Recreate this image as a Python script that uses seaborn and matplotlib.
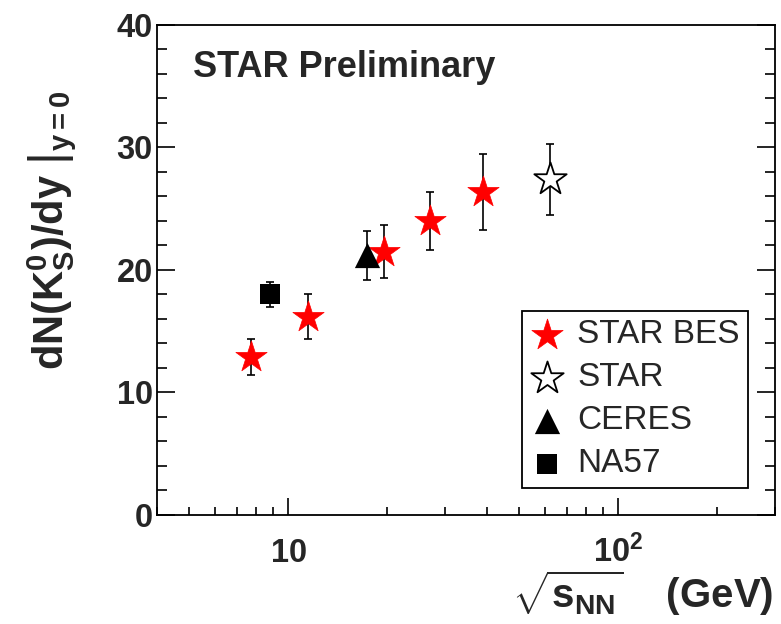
import matplotlib
matplotlib.use("Agg")
import matplotlib.pyplot as plt
import seaborn as sns
import pandas as pd
from matplotlib.ticker import FixedLocator, FixedFormatter, LogLocator, NullFormatter, MultipleLocator

# K0s mid-rapidity yields vs collision energy
bes_energy = [7.7, 11.5, 19.6, 27.0, 39.0]
bes_yield = [12.9, 16.2, 21.5, 24.0, 26.4]
bes_err = [1.45, 1.8, 2.15, 2.4, 3.1]

star_energy = [62.4]
star_yield = [27.4]
star_err = [2.9]

ceres_energy = [17.3]
ceres_yield = [21.2]
ceres_err = [2.0]

na57_energy = [8.8]
na57_yield = [18.0]
na57_err = [1.05]

x_ticks = [10, 100]
x_tick_labels = [r"$\mathbf{10}$", r"$\mathbf{10^{2}}$"]
y_ticks = [0, 10, 20, 30, 40]
y_tick_labels = ["0", "10", "20", "30", "40"]

sns.set_theme(style="ticks")
plt.rcParams["font.family"] = ["Liberation Sans", "DejaVu Sans"]
plt.rcParams["mathtext.fontset"] = "custom"
plt.rcParams["mathtext.rm"] = "Liberation Sans"
plt.rcParams["mathtext.bf"] = "Liberation Sans:bold"
plt.rcParams["mathtext.it"] = "Liberation Sans:italic"
plt.rcParams["mathtext.sf"] = "Liberation Sans"

fig = plt.figure(figsize=(7.81, 6.24), dpi=100)
ax = fig.add_axes([0.2010, 0.1747, 0.7913, 0.7853])
ax.set_xscale("log")

series = [
    ("STAR BES", bes_energy, bes_yield, bes_err,
     dict(marker="*", s=560, color="#ff0000", edgecolor="#ff0000", linewidth=0.5)),
    ("STAR", star_energy, star_yield, star_err,
     dict(marker="*", s=600, color="white", edgecolor="black", linewidth=1.3)),
    ("CERES", ceres_energy, ceres_yield, ceres_err,
     dict(marker="^", s=330, color="black", edgecolor="black", linewidth=0)),
    ("NA57", na57_energy, na57_yield, na57_err,
     dict(marker="s", s=200, color="black", edgecolor="black", linewidth=0)),
]

for name, xs, ys, es, style in series:
    df = pd.DataFrame({"energy": xs, "yield": ys})
    ax.errorbar(xs, ys, yerr=es, fmt="none", ecolor="black",
                elinewidth=1.2, capsize=3, capthick=1.2, zorder=2)
    sns.scatterplot(data=df, x="energy", y="yield", ax=ax, label=name,
                    zorder=3, **style)

ax.set_xlim(4, 300)
ax.set_ylim(0, 40)

ax.xaxis.set_major_locator(FixedLocator(x_ticks))
ax.xaxis.set_major_formatter(FixedFormatter(x_tick_labels))
ax.xaxis.set_minor_locator(LogLocator(base=10, subs=[2, 3, 4, 5, 6, 7, 8, 9], numticks=20))
ax.xaxis.set_minor_formatter(NullFormatter())
ax.yaxis.set_major_locator(FixedLocator(y_ticks))
ax.yaxis.set_major_formatter(FixedFormatter(y_tick_labels))
ax.yaxis.set_minor_locator(MultipleLocator(2))

ax.tick_params(axis="both", which="both", direction="in", color="black", width=1.2)
ax.tick_params(axis="y", which="both", left=True, right=True)
ax.tick_params(axis="x", which="both", bottom=True, top=False)
ax.tick_params(axis="y", which="major", length=13, pad=3, labelsize=23.5)
ax.tick_params(axis="y", which="minor", length=7.5)
ax.tick_params(axis="x", which="major", length=12, pad=34, labelsize=23.5)
ax.tick_params(axis="x", which="minor", length=6)
for lab in ax.get_yticklabels():
    lab.set_fontweight("bold")
for lab in ax.get_xticklabels():
    lab.set_verticalalignment("baseline")

for sp in ax.spines.values():
    sp.set_color("black")
    sp.set_linewidth(1.3)

ax.set_xlabel("")
ax.set_ylabel(r"$\left.\mathbf{dN(K^{0}_{S})/dy}\ \right|_{\mathbf{y=0}}$",
              fontsize=30, va="center")
ax.yaxis.set_label_coords(-0.17, 0.58)

fig.text(773 / 781, 1 - 608 / 624, r"$\mathbf{\sqrt{s_{NN}}}$    (GeV)",
         ha="right", va="baseline", fontsize=29, fontweight="bold")

ax.text(0.058, 0.894, "STAR Preliminary", transform=ax.transAxes,
        ha="left", va="baseline", fontsize=26, fontweight="bold")

leg = ax.legend(loc="upper left", bbox_to_anchor=(0.5906, 0.4163),
                borderaxespad=0, fontsize=24, frameon=True, fancybox=False,
                edgecolor="black", handlelength=1.0, handletextpad=0.4,
                borderpad=0.25, labelspacing=0.36, framealpha=1)
leg.get_frame().set_linewidth(1.3)

fig.savefig("out.png", dpi=100, facecolor="white")
